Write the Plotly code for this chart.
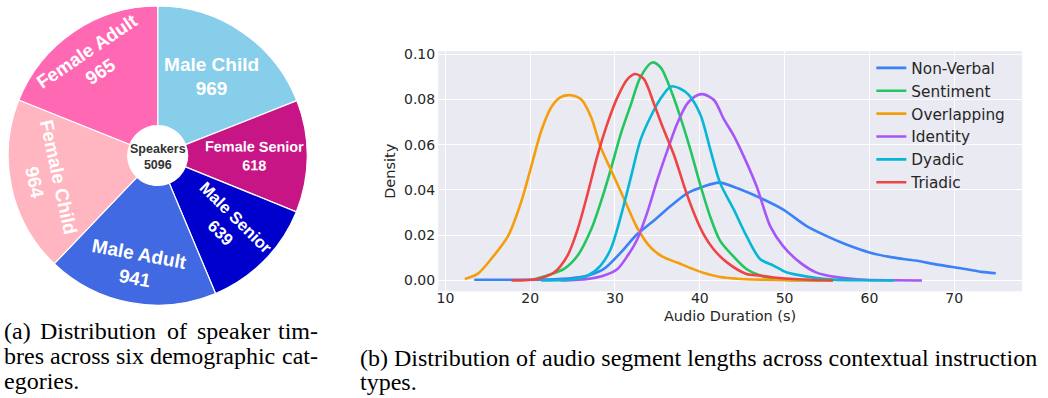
import plotly.graph_objects as go

W, H = 1048, 398

# ---------------- Pie data ----------------
pie_labels = ["Male Child", "Female Senior", "Male Senior", "Male Adult", "Female Child", "Female Adult"]
pie_values = [969, 618, 639, 941, 964, 965]
pie_colors = ["#87CEEB", "#C71585", "#0000CD", "#4169E1", "#FFB6C1", "#FF69B4"]
center_title = "Speakers"

# ---------------- KDE data ----------------
series_names = ["Non-Verbal", "Sentiment", "Overlapping", "Identity", "Dyadic", "Triadic"]
series_colors = ["#3b82f6", "#22c55e", "#f59e0b", "#a855f7", "#06b6d4", "#ef4444"]

nonverbal_x = [13.4, 17.0, 20.9, 24.8, 26.8, 28.7, 30.7, 32.6, 34.6, 36.6, 38.5, 40.3, 42.3, 44.6, 47.1, 49.8,
               52.6, 54.9, 57.2, 60.0, 62.7, 65.4, 68.2, 71.3, 73.2, 74.9]
nonverbal_y = [0.0003, 0.0003, 0.0004, 0.0010, 0.0022, 0.0051, 0.0124, 0.0204, 0.0265, 0.0330, 0.0385, 0.0413,
               0.0432, 0.0405, 0.0365, 0.0314, 0.0240, 0.0197, 0.0160, 0.0124, 0.0102, 0.0088, 0.0069, 0.0051,
               0.0038, 0.0032]

sentiment_x = [20.5, 22.0, 24.0, 25.6, 27.2, 28.3, 29.5, 30.7, 31.9, 33.0, 34.4, 35.4, 36.6, 37.7, 38.9, 40.0,
               41.2, 42.4, 44.0, 45.5, 47.1, 49.4, 52.0, 55.7]
sentiment_y = [0.0005, 0.0022, 0.0051, 0.0110, 0.0226, 0.0343, 0.0490, 0.0650, 0.0780, 0.0898, 0.0963, 0.0940,
               0.0840, 0.0723, 0.0577, 0.0430, 0.0285, 0.0175, 0.0105, 0.0051, 0.0022, 0.0005, 0.0001, 0.0]

overlapping_x = [12.3, 13.8, 15.4, 17.4, 18.9, 20.1, 21.3, 22.5, 23.6, 24.8, 26.0, 27.2, 28.3, 29.5, 31.1, 32.6,
                 34.2, 35.6, 37.4, 38.9, 40.3, 42.4, 44.4, 47.1, 51.0, 55.7]
overlapping_y = [0.0007, 0.0029, 0.0095, 0.0197, 0.0343, 0.0500, 0.0660, 0.0766, 0.0810, 0.0818, 0.0800, 0.0720,
                 0.0590, 0.0490, 0.0358, 0.0234, 0.0146, 0.0105, 0.0078, 0.0055, 0.0035, 0.0015, 0.0008, 0.0004,
                 0.0001, 0.0]

identity_x = [23.6, 26.8, 28.7, 30.3, 31.5, 32.6, 33.8, 35.0, 36.2, 37.3, 38.5, 39.7, 40.5, 41.7, 42.8, 44.0,
              45.2, 46.7, 48.3, 49.8, 51.8, 53.7, 56.1, 59.6, 63.0, 66.2]
identity_y = [0.0, 0.0007, 0.0022, 0.0051, 0.0110, 0.0180, 0.0300, 0.0445, 0.0577, 0.0690, 0.0780, 0.0818,
              0.0822, 0.0796, 0.0715, 0.0640, 0.0547, 0.0416, 0.0240, 0.0153, 0.0080, 0.0036, 0.0015, 0.0003,
              0.0001, 0.0]

dyadic_x = [21.3, 24.8, 26.8, 28.3, 29.5, 30.7, 31.9, 33.0, 34.2, 35.4, 36.6, 37.7, 38.7, 40.1, 41.25, 42.4,
            44.0, 45.5, 47.1, 48.7, 50.2, 53.0, 55.7, 59.0, 62.9]
dyadic_y = [0.0, 0.0004, 0.0022, 0.0066, 0.0139, 0.0285, 0.0460, 0.0620, 0.0723, 0.0805, 0.0857, 0.0847,
            0.0820, 0.0730, 0.0577, 0.0430, 0.0314, 0.0197, 0.0095, 0.0066, 0.0036, 0.0015, 0.0004, 0.0001, 0.0]

triadic_x = [17.8, 20.9, 22.85, 24.4, 25.6, 26.8, 27.9, 29.1, 30.3, 31.5, 32.4, 33.4, 34.6, 35.6, 37.0, 38.3,
             39.5, 40.5, 41.6, 43.2, 45.5, 47.1, 49.0, 53.0, 55.7]
triadic_y = [0.0, 0.0007, 0.0036, 0.0110, 0.0226, 0.0387, 0.0547, 0.0693, 0.0810, 0.0890, 0.0912, 0.0890,
             0.0780, 0.0680, 0.0550, 0.0400, 0.0280, 0.0200, 0.0139, 0.0080, 0.0029, 0.0022, 0.0012, 0.0003, 0.0]

series_x = [nonverbal_x, sentiment_x, overlapping_x, identity_x, dyadic_x, triadic_x]
series_y = [nonverbal_y, sentiment_y, overlapping_y, identity_y, dyadic_y, triadic_y]

y_ticks = [0.00, 0.02, 0.04, 0.06, 0.08, 0.10]
x_ticks = [10, 20, 30, 40, 50, 60, 70]

# caption (a) is justified in the reference, so its words are set one by one
caption_a_line1 = ["(a)", "Distribution", "of", "speaker", "tim-"]
caption_a_line2 = ["bres across six demographic", "cat-"]
caption_a_line3 = "egories."
caption_b = ["(b) Distribution of audio segment lengths across contextual instruction", "types."]


def px_x(p):
    return p / W


def px_y(p):
    return 1 - p / H


fig = go.Figure()

fig.add_trace(go.Pie(
    labels=pie_labels, values=pie_values, sort=False, direction="clockwise", rotation=0,
    hole=0.2,
    marker=dict(colors=pie_colors, line=dict(color="white", width=1.2)),
    texttemplate="<b>%{label}</b><br><b>%{value}</b>",
    textposition="inside", insidetextorientation="auto",
    textfont=dict(family="Liberation Sans, Arial", size=19, color="white"),
    domain=dict(x=[px_x(4), px_x(308)], y=[px_y(304), px_y(1)]),
    showlegend=False, hoverinfo="label+value",
))

for name, color, xs, ys in zip(series_names, series_colors, series_x, series_y):
    fig.add_trace(go.Scatter(
        x=xs, y=ys, mode="lines", name=name, legendgroup=name,
        line=dict(color=color, width=2.6, shape="spline", smoothing=0.8),
        xaxis="x", yaxis="y",
    ))

tick_font = dict(family="DejaVu Sans", size=14, color="#262626")
title_font = dict(family="DejaVu Sans", size=14.5, color="#262626")

fig.update_layout(
    width=W, height=H,
    margin=dict(l=0, r=0, t=0, b=0),
    paper_bgcolor="white",
    plot_bgcolor="#EAEAF2",
    font=dict(family="DejaVu Sans", color="#262626"),
    xaxis=dict(
        domain=[px_x(437), px_x(1022)], anchor="y",
        range=[9.15, 78.0], tickvals=x_ticks, ticktext=[str(v) for v in x_ticks],
        showgrid=True, gridcolor="white", gridwidth=1, zeroline=False, showline=False,
        ticks="", tickfont=tick_font, ticklabelstandoff=-3,
        title=dict(text="Audio Duration (s)", font=title_font, standoff=5),
    ),
    yaxis=dict(
        domain=[px_y(290), px_y(46.7)], anchor="x",
        range=[-0.0048, 0.1013], tickvals=y_ticks, ticktext=["%.2f" % v for v in y_ticks],
        showgrid=True, gridcolor="white", gridwidth=1, zeroline=False, showline=False,
        ticks="", tickfont=tick_font, ticklabelstandoff=2,
        title=dict(text="Density", font=title_font, standoff=4),
    ),
    legend=dict(
        x=px_x(871), y=px_y(47), xanchor="left", yanchor="top",
        bgcolor="rgba(0,0,0,0)", borderwidth=0,
        font=dict(family="DejaVu Sans", size=15.3, color="#262626"),
        tracegroupgap=0,
    ),
)

annotations = [dict(
    text="<b>%s</b><br><b>%d</b>" % (center_title, sum(pie_values)),
    x=px_x(156), y=px_y(154), xref="paper", yref="paper", showarrow=False,
    font=dict(family="Liberation Sans, Arial", size=12.5, color="#333333"),
    xanchor="center", yanchor="middle",
)]

cap_font = dict(family="Liberation Serif, Times New Roman", size=24, color="black")


def cap(text, xp, yp, anchor="left"):
    annotations.append(dict(text=text, x=px_x(xp), y=px_y(yp), xref="paper", yref="paper",
                            showarrow=False, xanchor=anchor, yanchor="middle", font=cap_font))


# line 1 of caption (a): justified word positions
line1_starts = [0, 36, 163, 193]
for word, xs in zip(caption_a_line1[:-1], line1_starts):
    cap(word, xs, 330)
cap(caption_a_line1[-1], 319, 330, "right")
cap(caption_a_line2[0], 0, 355.5)
cap(caption_a_line2[1], 319, 355.5, "right")
cap(caption_a_line3, 0, 381)
for i, line in enumerate(caption_b):
    cap(line, 357, 357 + 25 * i)

fig.update_layout(annotations=annotations)

fig.write_html("out.html", config={"displayModeBar": False},
               post_script="document.body.style.margin='0';document.body.style.padding='0';")
